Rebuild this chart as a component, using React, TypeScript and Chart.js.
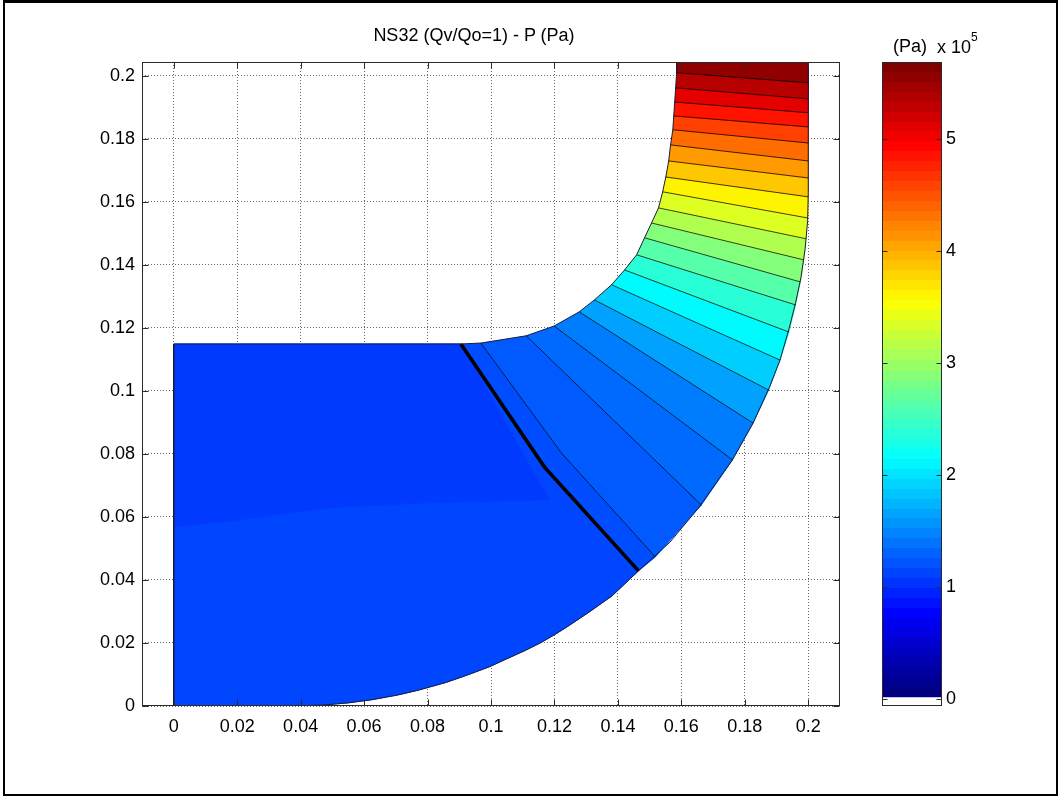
import { useEffect, useRef } from "react";
import { Chart, registerables } from "chart.js";

Chart.register(...registerables);

const FONT = "'Liberation Sans', Arial, Helvetica, sans-serif";

// ---------- text ----------
const TITLE = "NS32 (Qv/Qo=1) - P (Pa)";
const CB_UNIT = "(Pa)";
const CB_EXP_BASE = "x 10";
const CB_EXP = "5";

// ---------- axes ----------
const X_MIN = -0.01;
const X_MAX = 0.21;
const Y_MIN = 0;
const Y_MAX = 0.2044;
const xTicks = [0, 0.02, 0.04, 0.06, 0.08, 0.1, 0.12, 0.14, 0.16, 0.18, 0.2];
const xTickLabels = ["0", "0.02", "0.04", "0.06", "0.08", "0.1", "0.12", "0.14", "0.16", "0.18", "0.2"];
const yTicks = [0, 0.02, 0.04, 0.06, 0.08, 0.1, 0.12, 0.14, 0.16, 0.18, 0.2];
const yTickLabels = ["0", "0.02", "0.04", "0.06", "0.08", "0.1", "0.12", "0.14", "0.16", "0.18", "0.2"];

// ---------- colour scale (x 1e5 Pa) ----------
const C_LO = 0.02;
const C_HI = 5.69;
const CB_MIN = -0.06;
const CB_MAX = 5.69;
const cbTicks = [0, 1, 2, 3, 4, 5];
const cbTickLabels = ["0", "1", "2", "3", "4", "5"];

// ---------- geometry of the meridional channel ----------
// outer boundary, from the bottom up
const outerX = [0, 0.037, 0.047, 0.055, 0.0625, 0.0706, 0.077, 0.0859, 0.093, 0.0996, 0.105, 0.1105, 0.1155, 0.1198, 0.1238, 0.1312, 0.1382, 0.1465, 0.1564, 0.1655, 0.176, 0.1826, 0.1877, 0.1911, 0.194, 0.196, 0.1977, 0.199, 0.1998, 0.2, 0.2];
const outerY = [0, 0, 0.0003, 0.001, 0.002, 0.0035, 0.005, 0.0075, 0.01, 0.0125, 0.015, 0.0175, 0.02, 0.0225, 0.025, 0.03, 0.035, 0.0429, 0.052, 0.063, 0.078, 0.0898, 0.101, 0.1098, 0.12, 0.128, 0.136, 0.145, 0.154, 0.163, 0.2044];
// inner boundary, from the inlet corner up to the top
const innerX = [0.0905, 0.0968, 0.1111, 0.1199, 0.1278, 0.1326, 0.138, 0.1421, 0.1459, 0.1484, 0.1506, 0.1528, 0.1541, 0.1551, 0.156, 0.1566, 0.1573, 0.1576, 0.1579, 0.1582, 0.1585, 0.1585];
const innerY = [0.1149, 0.1152, 0.1175, 0.1206, 0.1251, 0.1289, 0.1337, 0.1384, 0.1432, 0.1486, 0.1533, 0.1581, 0.1632, 0.1679, 0.173, 0.1781, 0.1829, 0.1873, 0.1917, 0.1962, 0.201, 0.2044];
// inlet block
const inletTopY = 0.1149;

// ---------- isobars (inner end -> outer end), from the outlet down ----------
const isoX = [
  [0.1585, 0.2], [0.1582, 0.2], [0.1579, 0.2], [0.1576, 0.2], [0.1573, 0.2],
  [0.1566, 0.2], [0.156, 0.2], [0.1551, 0.2], [0.1541, 0.1998], [0.1528, 0.1993],
  [0.1506, 0.1986], [0.1484, 0.1975], [0.1459, 0.196], [0.1421, 0.1939], [0.138, 0.1911],
  [0.1326, 0.1875], [0.1278, 0.1826], [0.1199, 0.1761], [0.1111, 0.1663], [0.0968, 0.1222, 0.1518],
];
const isoY = [
  [0.201, 0.1978], [0.1962, 0.1927], [0.1917, 0.1883], [0.1873, 0.1838], [0.1829, 0.1787],
  [0.1781, 0.173], [0.173, 0.1676], [0.1679, 0.1616], [0.1632, 0.1549], [0.1581, 0.1483],
  [0.1533, 0.1416], [0.1486, 0.1346], [0.1432, 0.1273], [0.1384, 0.1187], [0.1337, 0.1098],
  [0.1289, 0.1003], [0.1251, 0.0898], [0.1206, 0.0781], [0.1175, 0.0638], [0.1152, 0.0803, 0.0473],
];
// blade leading edge (thick line)
const edgeX = [0.0905, 0.1168, 0.1465];
const edgeY = [0.1149, 0.0759, 0.0429];

// pressure (x 1e5 Pa) of each band: above isobar 1, between isobars, and last one next to the leading edge
const bandP = [5.6, 5.375, 5.125, 4.875, 4.625, 4.375, 4.125, 3.875, 3.625, 3.375, 3.125, 2.875, 2.625, 2.375, 2.125, 1.875, 1.625, 1.42, 1.32, 1.23, 1.15];

// inlet block shading: upper part, lower part, bottom strip
const inletP = [1.05, 1.12, 0.98];
const shadeX = [0, 0.021, 0.049, 0.078, 0.1185];
const shadeY = [0.0568, 0.059, 0.0629, 0.0644, 0.0654];
const stripX = [0, 0.04, 0.03, 0];
const stripY = [0, 0, 0.003, 0.0033];

// ---------- helpers ----------
type P = { x: number; y: number };
const pts = (xs: number[], ys: number[]): P[] => xs.map((x, i) => ({ x, y: ys[i] }));

function jetRGB(f: number): [number, number, number] {
  const c = (v: number) => Math.max(0, Math.min(1, v));
  return [c(1.5 - Math.abs(4 * f - 3)), c(1.5 - Math.abs(4 * f - 2)), c(1.5 - Math.abs(4 * f - 1))];
}
const rgb = (t: [number, number, number]) =>
  `rgb(${Math.round(t[0] * 255)},${Math.round(t[1] * 255)},${Math.round(t[2] * 255)})`;
const colorOf = (p: number) => rgb(jetRGB((p - C_LO) / (C_HI - C_LO)));

function polyDs(points: P[], p: number) {
  const col = colorOf(p);
  return {
    type: "line" as const,
    data: points,
    showLine: true,
    fill: "shape" as const,
    backgroundColor: col,
    borderColor: col,
    borderWidth: 1,
    pointRadius: 0,
    tension: 0,
    order: 2,
  };
}
function lineDs(points: P[], color: string, width: number) {
  return {
    type: "line" as const,
    data: points,
    showLine: true,
    fill: false,
    borderColor: color,
    backgroundColor: color,
    borderWidth: width,
    pointRadius: 0,
    tension: 0,
    order: 0,
  };
}

function buildDatasets() {
  const lines = isoX.map((xs, i) => pts(xs, isoY[i]));
  const edge = pts(edgeX, edgeY);
  const outer = pts(outerX, outerY);
  const inner = pts(innerX, innerY);
  const rev = (a: P[]) => a.slice().reverse();
  const ds: any[] = [];

  // channel bands
  const innerTop = inner[inner.length - 1];
  const outerTop = outer[outer.length - 1];
  ds.push(polyDs([innerTop, outerTop, ...rev(lines[0])], bandP[0]));
  for (let k = 0; k < lines.length - 1; k++) {
    ds.push(polyDs([...lines[k], ...rev(lines[k + 1])], bandP[k + 1]));
  }
  ds.push(polyDs([...lines[lines.length - 1], ...rev(edge)], bandP[lines.length]));

  // inlet block
  const shade = pts(shadeX, shadeY);
  const arcToEdge = outer.filter((p) => p.y <= edgeY[edgeY.length - 1] + 1e-9);
  ds.push(
    polyDs([{ x: 0, y: inletTopY }, edge[0], shade[shade.length - 1], ...rev(shade).slice(1)], inletP[0])
  );
  ds.push(polyDs([...arcToEdge, edge[1], edge[0], ...rev(shade)], inletP[1]));
  ds.push(polyDs(pts(stripX, stripY), inletP[2]));

  // isobars
  lines.forEach((l) => ds.push(lineDs(l, "rgba(0,0,0,0.82)", 0.9)));
  // outline of the domain
  ds.push(
    lineDs([{ x: 0, y: inletTopY }, ...outer, ...rev(inner), { x: 0, y: inletTopY }], "#1c1c3a", 1)
  );
  // leading edge
  ds.push(lineDs(edge, "#000", 3.6));
  return ds;
}

const boxPlugin = {
  id: "matlabBox",
  afterDraw(chart: any) {
    const { ctx, chartArea: a, scales } = chart;
    ctx.save();
    ctx.strokeStyle = "#2a2a2a";
    ctx.lineWidth = 1;
    const L = Math.round(a.left) + 0.5, R = Math.round(a.right) - 0.5;
    const T = Math.round(a.top) + 0.5, B = Math.round(a.bottom) - 0.5;
    ctx.strokeRect(L, T, R - L, B - T);
    ctx.beginPath();
    const tl = 6;
    for (const v of xTicks) {
      const x = Math.round(scales.x.getPixelForValue(v)) + 0.5;
      ctx.moveTo(x, B); ctx.lineTo(x, B - tl);
      ctx.moveTo(x, T); ctx.lineTo(x, T + tl);
    }
    for (const v of yTicks) {
      const y = Math.round(scales.y.getPixelForValue(v)) + 0.5;
      ctx.moveTo(L, y); ctx.lineTo(L + tl, y);
      ctx.moveTo(R, y); ctx.lineTo(R - tl, y);
    }
    ctx.stroke();
    ctx.restore();
  },
};

const cbBoxPlugin = {
  id: "cbBox",
  afterDraw(chart: any) {
    const { ctx, chartArea: a, scales } = chart;
    ctx.save();
    ctx.strokeStyle = "#2a2a2a";
    ctx.lineWidth = 1;
    const L = Math.round(a.left) + 0.5, R = Math.round(a.right) - 0.5;
    const T = Math.round(a.top) + 0.5, B = Math.round(a.bottom) - 0.5;
    ctx.strokeRect(L, T, R - L, B - T);
    ctx.beginPath();
    for (const v of cbTicks) {
      const y = Math.round(scales.y.getPixelForValue(v)) + 0.5;
      ctx.moveTo(L, y); ctx.lineTo(L + 5, y);
      ctx.moveTo(R, y); ctx.lineTo(R - 5, y);
    }
    ctx.stroke();
    ctx.restore();
  },
};

export default function App() {
  const mainRef = useRef<HTMLCanvasElement>(null);
  const cbRef = useRef<HTMLCanvasElement>(null);

  useEffect(() => {
    const tickFont = { family: FONT, size: 18 };
    const main = new Chart(mainRef.current as HTMLCanvasElement, {
      type: "scatter",
      data: { datasets: buildDatasets() },
      options: {
        responsive: false,
        animation: false,
        devicePixelRatio: 1,
        layout: { padding: { left: 0, right: 220, top: 62, bottom: 50 } },
        plugins: { legend: { display: false }, tooltip: { enabled: false }, title: { display: false } },
        scales: {
          x: {
            type: "linear",
            min: X_MIN,
            max: X_MAX,
            afterBuildTicks: (ax: any) => { ax.ticks = xTicks.map((v) => ({ value: v })); },
            afterFit: (ax: any) => { ax.height = 40; },
            ticks: {
              autoSkip: false,
              maxRotation: 0,
              padding: 10,
              color: "#000",
              font: tickFont,
              callback: (v: any) => xTickLabels[xTicks.findIndex((t) => Math.abs(t - v) < 1e-9)],
            },
            grid: { color: "rgba(0,0,0,0.6)", lineWidth: 1, drawTicks: false },
            border: { display: false, dash: [1, 2] },
          },
          y: {
            type: "linear",
            min: Y_MIN,
            max: Y_MAX,
            afterBuildTicks: (ax: any) => { ax.ticks = yTicks.map((v) => ({ value: v })); },
            afterFit: (ax: any) => { ax.width = 142; },
            ticks: {
              autoSkip: false,
              padding: 7,
              color: "#000",
              font: tickFont,
              callback: (v: any) => yTickLabels[yTicks.findIndex((t) => Math.abs(t - v) < 1e-9)],
            },
            grid: { color: "rgba(0,0,0,0.6)", lineWidth: 1, drawTicks: false },
            border: { display: false, dash: [1, 2] },
          },
        },
      } as any,
      plugins: [boxPlugin],
    } as any);

    const cb = new Chart(cbRef.current as HTMLCanvasElement, {
      type: "bar",
      data: {
        labels: ["P"],
        datasets: [
          {
            data: [[C_LO, C_HI]],
            barPercentage: 1,
            categoryPercentage: 1,
            borderWidth: 0,
            backgroundColor: (ctx: any) => {
              const chart = ctx.chart;
              const ys = chart.scales && chart.scales.y;
              if (!chart.chartArea || !ys) return "#00f";
              const y0 = ys.getPixelForValue(C_LO);
              const y1 = ys.getPixelForValue(C_HI);
              const g = chart.ctx.createLinearGradient(0, y0, 0, y1);
              const n = 64;
              for (let i = 0; i < n; i++) {
                const col = rgb(jetRGB(i / (n - 1)));
                g.addColorStop(i / n, col);
                g.addColorStop(Math.min(1, (i + 1) / n - 1e-4), col);
              }
              return g;
            },
          },
        ],
      },
      options: {
        responsive: false,
        animation: false,
        devicePixelRatio: 1,
        layout: { padding: { left: 40, right: 78, top: 62, bottom: 90 } },
        plugins: { legend: { display: false }, tooltip: { enabled: false } },
        scales: {
          x: { display: false },
          y: {
            position: "right",
            min: CB_MIN,
            max: CB_MAX,
            afterBuildTicks: (ax: any) => { ax.ticks = cbTicks.map((v) => ({ value: v })); },
            afterFit: (ax: any) => { ax.width = 40; },
            ticks: {
              padding: 4,
              color: "#000",
              font: tickFont,
              callback: (v: any) => cbTickLabels[cbTicks.findIndex((t) => Math.abs(t - v) < 1e-9)],
            },
            grid: { display: false, drawTicks: false },
            border: { display: false },
          },
        },
      } as any,
      plugins: [cbBoxPlugin],
    } as any);

    return () => {
      main.destroy();
      cb.destroy();
    };
  }, []);

  const txt = { position: "absolute" as const, fontFamily: FONT, color: "#000", whiteSpace: "nowrap" as const };
  return (
    <div style={{ position: "absolute", left: 0, top: 0, width: 1060, height: 796, background: "#fff", overflow: "hidden" }}>
      <div
        style={{
          position: "absolute", left: 3, top: 0, width: 1051, height: 791,
          borderStyle: "solid", borderColor: "#000", borderWidth: "3px 2px 2px 2px",
        }}
      />
      <canvas ref={mainRef} width={1060} height={796} style={{ position: "absolute", left: 0, top: 0, width: 1060, height: 796 }} />
      <canvas ref={cbRef} width={218} height={796} style={{ position: "absolute", left: 842, top: 0, width: 218, height: 796 }} />
      <div style={{ ...txt, left: 274, width: 400, top: 25, textAlign: "center", fontSize: 18, lineHeight: "20px" }}>{TITLE}</div>
      <div style={{ ...txt, left: 893, top: 36, fontSize: 18, lineHeight: "20px" }}>{CB_UNIT}</div>
      <div style={{ ...txt, left: 937, top: 37, fontSize: 18, lineHeight: "20px" }}>{CB_EXP_BASE}</div>
      <div style={{ ...txt, left: 971, top: 30, fontSize: 12, lineHeight: "14px" }}>{CB_EXP}</div>
    </div>
  );
}
